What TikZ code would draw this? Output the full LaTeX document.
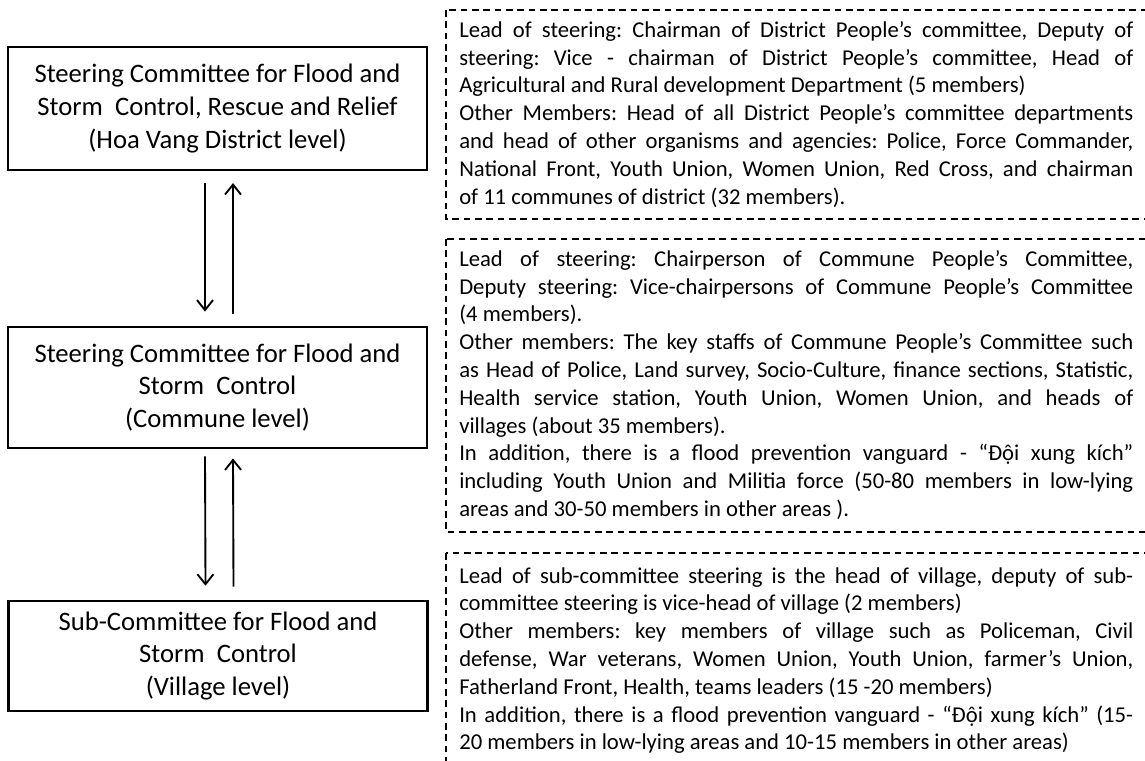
\documentclass[tikz,border=0pt]{standalone}
\usepackage{fontspec}
\setmainfont{Carlito}
\usetikzlibrary{arrows.meta,positioning}
\frenchspacing

\begin{document}
\begin{tikzpicture}[x=0.75pt,y=-0.75pt,
    levelbox/.style={draw, line width=1.9pt, minimum width=314pt, inner sep=0pt, align=center, font=\fontsize{20}{24.4}\selectfont},
    infotext/.style={anchor=north west, text width=505.5pt, inner sep=0pt, align=justify, font=\fontsize{17}{20.85}\selectfont},
    infobox/.style={line width=0.9pt, dash pattern=on 5pt off 3.5pt},
    flow/.style={line width=1.4pt, -{Straight Barb[length=7.5pt,width=12pt]}}]
    \useasboundingbox (0,0) rectangle (1145,760);

    % Levels
    \node[levelbox, minimum height=92pt] (district) at (217.5,108.5) {Steering Committee for Flood and\\ Storm\ \ Control, Rescue and Relief\\ (Hoa Vang District level)};
    \node[levelbox, minimum height=91pt] (commune) at (217.5,387.5) {Steering Committee for Flood and\\ Storm\ \ Control\\ (Commune level)};
    \node[levelbox, minimum height=82.5pt] (village) at (218,656) {Sub-Committee for Flood and\\ Storm\ \ Control\\ (Village level)};

    % Connections
    \draw[flow] ([shift={(-12.5,12)}]district.south) -- ([shift={(-12.5,-14)}]commune.north);
    \draw[flow] ([shift={(15.5,-12)}]commune.north) -- ([shift={(15.5,12)}]district.south);
    \draw[flow] ([shift={(-12.5,7)}]commune.south) -- ([shift={(-12.5,-14)}]village.north);
    \draw[flow] ([shift={(15.5,-13)}]village.north) -- ([shift={(15.5,9)}]commune.south);

    % Members
    \draw[infobox] (446,10) rectangle (1160,219);
    \node[infotext] (districtinfo) at (459,21) {Lead of steering: Chairman of District People’s committee, Deputy of\linebreak
    steering: Vice - chairman of District People’s committee, Head of\linebreak
    Agricultural and Rural development Department (5 members)\par
    Other Members: Head of all District People’s committee departments\linebreak
    and head of other organisms and agencies: Police, Force Commander,\linebreak
    National Front, Youth Union, Women Union, Red Cross, and chairman\linebreak
    of 11 communes of district (32 members).};

    \draw[infobox] (446,239) rectangle (1160,532);
    \node[infotext] (communeinfo) at (459,250) {Lead of steering: Chairperson of Commune People’s Committee,\linebreak
    Deputy steering: Vice-chairpersons of Commune People’s Committee\linebreak
    (4 members).\par
    Other members: The key staffs of Commune People’s Committee such\linebreak
    as Head of Police, Land survey, Socio-Culture, finance sections, Statistic,\linebreak
    Health service station, Youth Union, Women Union, and heads of\linebreak
    villages (about 35 members).\par
    In addition, there is a flood prevention vanguard - “Đội xung kích”\linebreak
    including Youth Union and Militia force (50-80 members in low-lying\linebreak
    areas and 30-50 members in other areas ).};

    \draw[infobox] (446,553) rectangle (1160,775);
    \node[infotext] (villageinfo) at (459,567) {Lead of sub-committee steering is the head of village, deputy of sub-\linebreak
    committee steering is vice-head of village (2 members)\par
    Other members: key members of village such as Policeman, Civil\linebreak
    defense, War veterans, Women Union, Youth Union, farmer’s Union,\linebreak
    Fatherland Front, Health, teams leaders (15 -20 members)\par
    In addition, there is a flood prevention vanguard - “Đội xung kích” (15-\linebreak
    20 members in low-lying areas and 10-15 members in other areas)};
\end{tikzpicture}
\end{document}
